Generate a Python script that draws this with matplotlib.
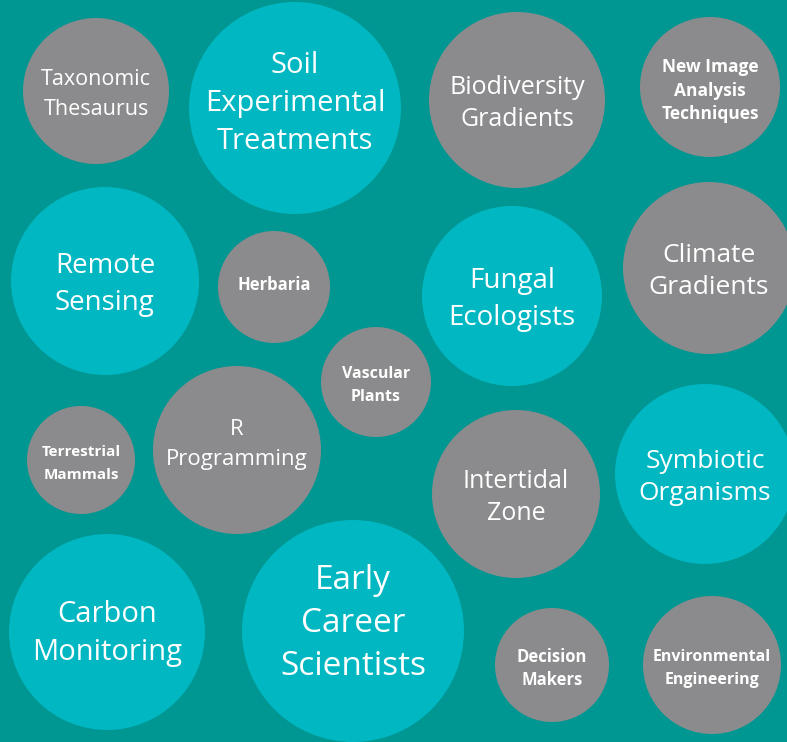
import matplotlib.pyplot as plt
from matplotlib.patches import Circle

# bubble labels and layout (pixel space of the 787x742 picture)
labels = [
    "Taxonomic\nThesaurus", "Soil\nExperimental\nTreatments", "Biodiversity\nGradients",
    "New Image\nAnalysis\nTechniques", "Remote\nSensing", "Herbaria", "Fungal\nEcologists",
    "Climate\nGradients", "Vascular\nPlants", "R\nProgramming", "Terrestrial\nMammals",
    "Intertidal\nZone", "Symbiotic\nOrganisms", "Carbon\nMonitoring",
    "Early\nCareer\nScientists", "Decision\nMakers", "Environmental\nEngineering",
]
cx = [96, 295, 517, 710, 105, 274, 512, 709, 376, 237, 81, 516, 705, 107, 353, 552, 712]
cy = [91, 108, 100, 87, 281, 287, 296, 268, 382, 450, 460, 494, 474, 632, 631, 665, 665]
radius = [73, 106, 88, 70, 94, 56, 90, 86, 55, 84, 54, 84, 90, 98, 111, 57, 69]
kind = ["gray", "teal", "gray", "gray", "teal", "gray", "teal", "gray", "gray",
        "gray", "gray", "gray", "teal", "teal", "teal", "gray", "gray"]
font_sizes = [15.5, 21, 18, 12.5, 20, 12, 20, 19, 11.5, 16, 11, 18, 19, 21, 24, 12, 11.5]
bold = [False, False, False, True, False, True, False, False, True,
        False, True, False, False, False, False, True, True]

colors = {"gray": "#8b8b8d", "teal": "#00b7c2"}
bg = "#009691"

plt.rcParams['font.family'] = ['Open Sans', 'DejaVu Sans']

fig = plt.figure(figsize=(7.87, 7.42), dpi=100)
fig.patch.set_facecolor(bg)
ax = fig.add_axes([0, 0, 1, 1])
ax.set_facecolor(bg)
ax.set_xlim(0, 787)
ax.set_ylim(742, 0)
ax.set_aspect('equal')
ax.axis('off')

# some labels sit a bit above their circle's centre
lift = {"Soil\nExperimental\nTreatments": 8, "Early\nCareer\nScientists": 11,
        "Carbon\nMonitoring": 2, "R\nProgramming": 9, "Herbaria": 5}
# line gaps that differ from the default
gaps = {"Taxonomic\nThesaurus": 1.6, "R\nProgramming": 1.55, "Vascular\nPlants": 1.55,
        "Terrestrial\nMammals": 1.75, "Decision\nMakers": 1.35,
        "Environmental\nEngineering": 1.55}

for lab, x, y, r, k, fs, b in zip(labels, cx, cy, radius, kind, font_sizes, bold):
    ax.add_patch(Circle((x, y), r, facecolor=colors[k], edgecolor='none'))
    ax.text(x, y + 3.5 - lift.get(lab, 0), lab, ha='center', va='center', color='white',
            fontsize=fs, fontweight='bold' if b else 'normal',
            linespacing=gaps.get(lab, 1.4))

fig.savefig('out.png', dpi=100, facecolor=bg)
